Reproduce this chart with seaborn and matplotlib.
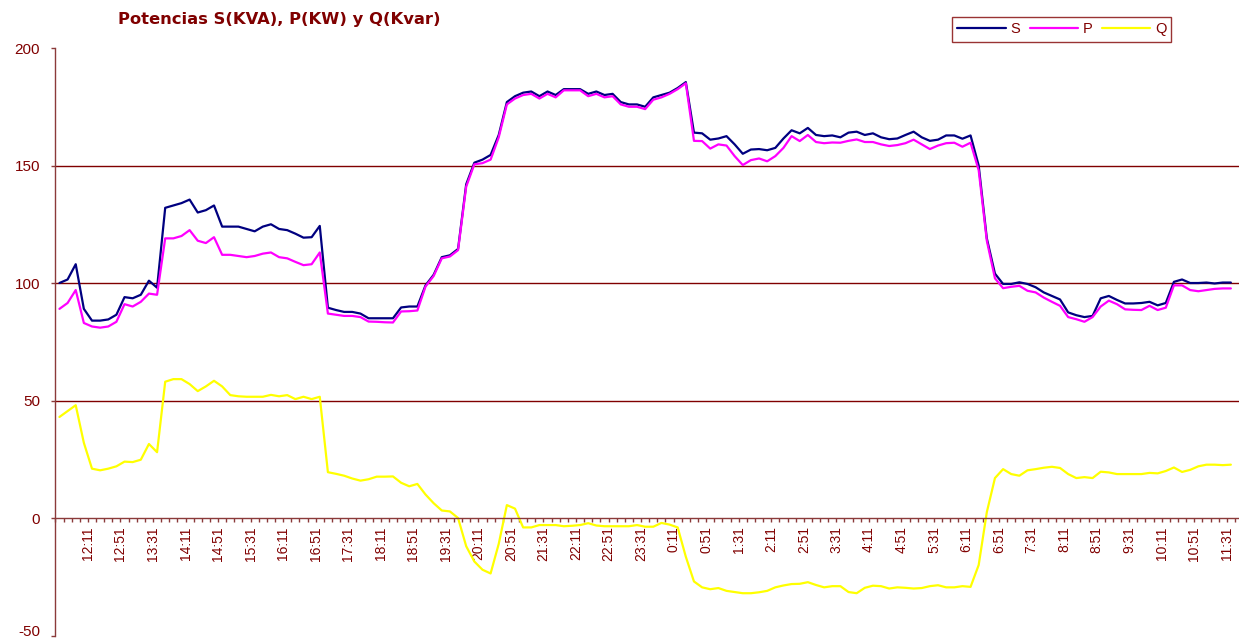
import numpy as np
import pandas as pd
import matplotlib
matplotlib.use("Agg")
import matplotlib.pyplot as plt
import seaborn as sns
from matplotlib.ticker import FixedLocator

# ---------------- data (10-minute samples) ----------------
series_names = ["S", "P", "Q"]

S_vals = [100, 101.5, 108, 89, 84, 84, 84.5, 86.5, 94, 93.5,
          95, 101, 98, 132, 133, 134, 135.5, 130, 131, 133,
          124, 124, 124, 123, 122, 124, 125, 123, 122.5, 121,
          119.3, 119.5, 124.3, 89.5, 88.5, 87.7, 87.7, 87, 85, 85,
          85, 85, 89.6, 90, 90, 99, 103.5, 111, 111.8, 114.5,
          142, 151.2, 152.5, 154.5, 163, 177, 179.5, 181, 181.5, 179.5,
          181.5, 180, 182.5, 182.5, 182.5, 180.5, 181.5, 180, 180.5, 177,
          176, 176, 175, 179, 180, 181, 183, 185.5, 164, 163.7,
          161, 161.5, 162.5, 159, 155, 156.8, 157, 156.5, 157.5, 161.5,
          165, 163.7, 166, 163, 162.5, 162.8, 162, 164, 164.4, 163,
          163.7, 162, 161.2, 161.5, 163, 164.4, 162, 160.5, 161, 162.8,
          162.8, 161.4, 162.8, 150, 119, 104, 99.6, 99.6, 100.3, 99.6,
          98.2, 96, 94.5, 93, 87.5, 86.3, 85.5, 86, 93.5, 94.5,
          92.8, 91.3, 91.3, 91.5, 92, 90.5, 91.5, 100.5, 101.5, 100,
          100, 100.2, 99.8, 100.2, 100.2]

P_vals = [89, 91.5, 97, 83, 81.5, 81, 81.5, 83.5, 91, 90,
          92, 95.5, 95, 119, 119, 120, 122.5, 118, 117, 119.5,
          112, 112, 111.5, 111, 111.5, 112.5, 113, 111, 110.5, 109,
          107.6, 108, 113, 87, 86.5, 86, 86, 85.5, 83.6, 83.5,
          83.3, 83.2, 87.9, 88, 88.3, 98.5, 103, 110.5, 111.3, 114,
          141, 150.5, 151, 152.5, 162, 176, 178.5, 180, 180.5, 178.5,
          180.5, 179, 182, 182, 182, 179.5, 180.5, 179, 179.5, 176,
          175, 175, 174, 178, 179, 180.5, 182.5, 185, 160.5, 160.4,
          157.2, 159, 158.5, 154, 150.2, 152.3, 153, 151.8, 154, 157.5,
          162.5, 160.4, 163, 160, 159.5, 159.8, 159.7, 160.5, 161.1, 160,
          160, 159, 158.3, 158.7, 159.5, 161, 159, 157, 158.5, 159.5,
          159.7, 158, 159.7, 148, 118, 102, 97.8, 98.4, 98.8, 96.7,
          96, 93.8, 92, 90.3, 85.5, 84.6, 83.5, 85.5, 90, 92.5,
          91, 88.8, 88.6, 88.5, 90.3, 88.5, 89.5, 99, 99, 97,
          96.5, 97, 97.5, 97.7, 97.7]

Q_vals = [43, 45.5, 48, 32, 21, 20.3, 21, 22, 24, 23.8,
          24.8, 31.5, 28, 58, 59.1, 59.1, 57, 54, 56, 58.4,
          56, 52.3, 51.8, 51.6, 51.6, 51.6, 52.4, 51.8, 52.3, 50.6,
          51.6, 50.6, 51.6, 19.5, 18.8, 18, 16.8, 15.9, 16.5, 17.6,
          17.6, 17.7, 15, 13.5, 14.5, 10, 6.3, 3.2, 2.8, 0,
          -12, -18.5, -22, -23.6, -11, 5.5, 4, -4, -4, -3,
          -3, -3, -3.5, -3.3, -3, -2.2, -3.2, -3.5, -3.5, -3.5,
          -3.5, -3, -3.7, -3.7, -2.1, -2.8, -4, -16.5, -27, -29.5,
          -30.3, -29.8, -31, -31.5, -32, -32, -31.6, -31, -29.5, -28.7,
          -28.1, -28, -27.3, -28.5, -29.5, -29, -29, -31.5, -32, -29.7,
          -28.8, -29, -30, -29.5, -29.7, -30, -29.8, -29, -28.6, -29.5,
          -29.5, -29, -29.3, -20, 2.5, 17, 20.8, 18.7, 18, 20.3,
          20.8, 21.4, 21.8, 21.3, 18.7, 17, 17.4, 17, 19.7, 19.4,
          18.7, 18.7, 18.7, 18.7, 19.2, 19, 20, 21.5, 19.6, 20.5,
          22, 22.7, 22.7, 22.5, 22.7]

time_labels = ["12:11", "12:51", "13:31", "14:11", "14:51", "15:31", "16:11", "16:51",
               "17:31", "18:11", "18:51", "19:31", "20:11", "20:51", "21:31", "22:11",
               "22:51", "23:31", "0:11", "0:51", "1:31", "2:11", "2:51", "3:31",
               "4:11", "4:51", "5:31", "6:11", "6:51", "7:31", "8:11", "8:51",
               "9:31", "10:11", "10:51", "11:31"]

y_ticks = [-50, 0, 50, 100, 150, 200]

# ---------------- styling ----------------
sns.set_style("white")
plt.rcParams['font.family'] = ['Liberation Sans', 'DejaVu Sans']

DARKRED = "#800000"
AXCOL = "#8B3A3A"
palette = {"S": "#000080", "P": "#FF00FF", "Q": "#FFFF00"}

n = len(S_vals)
df = pd.DataFrame({
    "idx": np.tile(np.arange(n), 3),
    "valor": S_vals + P_vals + Q_vals,
    "serie": np.repeat(series_names, n),
})

fig = plt.figure(figsize=(12.39, 6.42), dpi=100)
ax = fig.add_axes([0.0447, 0.0101, 0.9553, 0.9151])

sns.lineplot(data=df, x="idx", y="valor", hue="serie", hue_order=series_names,
             palette=palette, linewidth=1.6, ax=ax, legend=True, sort=False)

ax.set_xlim(-0.5, 145)
ax.set_ylim(-50, 200)
ax.set_xlabel("")
ax.set_ylabel("")

# spines
for s in ["top", "right"]:
    ax.spines[s].set_visible(False)
ax.spines["left"].set_color(AXCOL)
ax.spines["left"].set_linewidth(1.0)
ax.spines["bottom"].set_position(("data", 0))
ax.spines["bottom"].set_color(AXCOL)
ax.spines["bottom"].set_linewidth(1.0)

# y ticks + grid
ax.yaxis.set_major_locator(FixedLocator(y_ticks))
ax.set_yticklabels([str(v) for v in y_ticks])
ax.tick_params(axis="y", which="major", direction="out", length=3, width=1,
               color=AXCOL, labelcolor=DARKRED, labelsize=11, pad=8, left=True)
for lbl, v in zip(ax.get_yticklabels(), y_ticks):
    if v == -50:
        lbl.set_va("baseline")
ax.yaxis.grid(True, color=DARKRED, linewidth=1.0)
ax.set_axisbelow(True)
for gl, v in zip(ax.get_ygridlines(), y_ticks):
    if v in (-50, 0, 200):
        gl.set_visible(False)

# x ticks
label_pos = [3.5 + 4 * k for k in range(len(time_labels))]
ax.xaxis.set_major_locator(FixedLocator(label_pos))
ax.set_xticklabels(time_labels, rotation=90)
ax.xaxis.set_minor_locator(FixedLocator(np.arange(-0.5, 145, 1.0)))
ax.tick_params(axis="x", which="both", direction="out", length=3, width=1,
               color=AXCOL, bottom=True)
ax.tick_params(axis="x", which="major", labelcolor=DARKRED, labelsize=10, pad=3)
ax.xaxis.grid(False)

# title
fig.text(0.0952, 0.969, "Potencias S(KVA), P(KW) y Q(Kvar)", ha="left", va="center",
         fontsize=11.8, fontweight="bold", color=DARKRED, family="DejaVu Sans")

# legend
handles, labels = ax.get_legend_handles_labels()
leg = ax.legend(handles, labels, loc="upper left", bbox_to_anchor=(0.7627, 0.9844),
                bbox_transform=fig.transFigure, ncol=3, frameon=True, fancybox=False,
                edgecolor=DARKRED, fontsize=10.5, handlelength=3.3, handletextpad=0.3,
                columnspacing=0.7, borderpad=0.35, labelcolor=DARKRED)
leg.get_frame().set_linewidth(1.0)
for h in leg.get_lines():
    h.set_linewidth(1.6)

fig.savefig("out.png", dpi=100)
